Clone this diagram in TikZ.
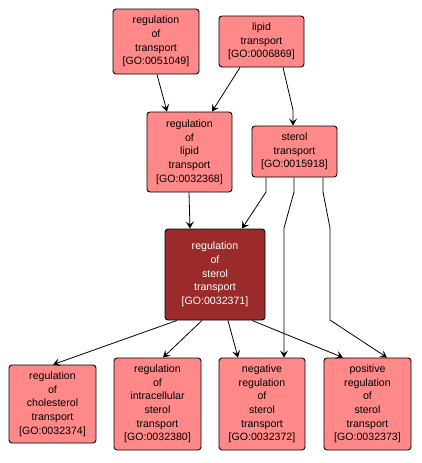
\documentclass[tikz,border=0pt]{standalone}
\usepackage{fontspec}
\setmainfont{Liberation Sans}
\usetikzlibrary{arrows.meta}
\definecolor{lightred}{RGB}{255,137,137}
\definecolor{darkred}{RGB}{155,42,42}
\begin{document}
\begin{tikzpicture}[x=1pt,y=-1pt,
 goterm/.style={draw=black, line width=0.9pt, rounded corners=3pt, fill=lightred, inner sep=0pt, align=center, font=\fontsize{10.6}{13.7}\selectfont},
 focus/.style={goterm, fill=darkred, text=white},
 arr/.style={draw, line width=0.8pt, -{Stealth[length=7pt,width=8pt,inset=3pt]}}]
\useasboundingbox (0,0) rectangle (421,463);
\node[goterm, minimum width=86pt, minimum height=65pt] (N1) at (156,41.5) {regulation\\of\\transport\\{[GO:0051049]}};
\node[goterm, minimum width=85pt, minimum height=51pt] (N2) at (261.5,41.5) {lipid\\transport\\{[GO:0006869]}};
\node[goterm, minimum width=85pt, minimum height=80pt] (N3) at (189.5,152) {regulation\\of\\lipid\\transport\\{[GO:0032368]}};
\node[goterm, minimum width=85pt, minimum height=51pt] (N4) at (294.5,151.5) {sterol\\transport\\{[GO:0015918]}};
\node[focus, minimum width=100pt, minimum height=91pt] (N5) at (215,274.5) {regulation\\of\\sterol\\transport\\{[GO:0032371]}};
\node[goterm, minimum width=87pt, minimum height=78pt] (B1) at (52.5,404) {regulation\\of\\cholesterol\\transport\\{[GO:0032374]}};
\node[goterm, minimum width=87pt, minimum height=92pt] (B2) at (157.5,404) {regulation\\of\\intracellular\\sterol\\transport\\{[GO:0032380]}};
\node[goterm, minimum width=86pt, minimum height=92pt] (B3) at (262,404) {negative\\regulation\\of\\sterol\\transport\\{[GO:0032372]}};
\node[goterm, minimum width=87pt, minimum height=92pt] (B4) at (367.5,404) {positive\\regulation\\of\\sterol\\transport\\{[GO:0032373]}};
% bend points
\coordinate (c1) at (293,110);
\coordinate (c2) at (266,192);
\coordinate (c3) at (294,192);
\coordinate (c4) at (284,228);
\coordinate (c5) at (323,192);
\coordinate (c6) at (330,228);
\coordinate (c7) at (330,320);
% edges
\draw[arr] ([xshift=1pt]N1.south) -- ([xshift=-22.5pt]N3.north);
\draw[arr] ([xshift=-21.5pt]N2.south) -- ([xshift=22.5pt]N3.north);
\draw[arr] ([xshift=21.5pt]N2.south) -- (c1) -- ([xshift=-1.5pt]N4.north);
\draw[arr] ([xshift=-0.5pt]N3.south) -- ([xshift=-25pt]N5.north);
\draw[arr] ([xshift=-28.5pt]N4.south) -- (c2) -- ([xshift=27pt]N5.north);
\draw[arr] ([xshift=-0.5pt]N4.south) -- (c3) -- (c4) -- ([xshift=22pt]B3.north);
\draw[arr] ([xshift=28.5pt]N4.south) -- (c5) -- (c6) -- (c7) -- ([xshift=19.5pt]B4.north);
\draw[arr] ([xshift=-38pt]N5.south) -- ([xshift=0.5pt]B1.north);
\draw[arr] ([xshift=-13pt]N5.south) -- ([xshift=5.5pt]B2.north);
\draw[arr] ([xshift=13pt]N5.south) -- ([xshift=-24pt]B3.north);
\draw[arr] ([xshift=37pt]N5.south) -- ([xshift=-24.5pt]B4.north);
\end{tikzpicture}
\end{document}
